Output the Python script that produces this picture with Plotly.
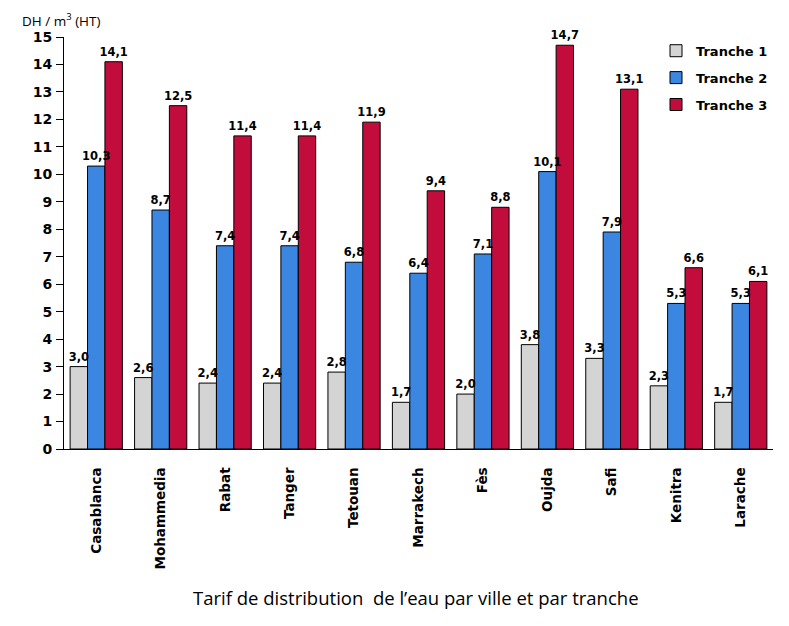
import plotly.graph_objects as go

cities = ["Casablanca", "Mohammedia", "Rabat", "Tanger", "Tetouan", "Marrakech",
          "Fès", "Oujda", "Safi", "Kenitra", "Larache"]
tranche1 = [3.0, 2.6, 2.4, 2.4, 2.8, 1.7, 2.0, 3.8, 3.3, 2.3, 1.7]
tranche2 = [10.3, 8.7, 7.4, 7.4, 6.8, 6.4, 7.1, 10.1, 7.9, 5.3, 5.3]
tranche3 = [14.1, 12.5, 11.4, 11.4, 11.9, 9.4, 8.8, 14.7, 13.1, 6.6, 6.1]
series_names = ["Tranche 1", "Tranche 2", "Tranche 3"]
colors = ["#D4D4D4", "#3A86E0", "#C20D3C"]
y_ticks = list(range(0, 16))

fam = "Verdana, 'DejaVu Sans', sans-serif"
all_series = [tranche1, tranche2, tranche3]

fig = go.Figure()
# bars
for i, (name, vals, col) in enumerate(zip(series_names, all_series, colors)):
    fig.add_trace(go.Bar(
        x=cities, y=vals, name=name, legendgroup=f"g{i}", offsetgroup=str(i),
        marker=dict(color=col, line=dict(color="black", width=1)),
        hoverinfo="x+y+name",
    ))
# value labels drawn on top of every bar
for i, vals in enumerate(all_series):
    fig.add_trace(go.Bar(
        x=cities, y=vals, offsetgroup=str(i), showlegend=False,
        marker=dict(color="rgba(0,0,0,0)", line=dict(width=0)),
        texttemplate="%{y:.1f}", textposition="outside", constraintext="none",
        textfont=dict(family=fam, size=11.5, color="black", weight="bold"),
        cliponaxis=False, hoverinfo="skip",
    ))

fig.update_layout(
    width=789, height=626,
    margin=dict(l=56, r=24, t=29, b=185, autoexpand=False),
    paper_bgcolor="white", plot_bgcolor="white",
    barmode="group", bargap=0.19, bargroupgap=0,
    separators=", ",
    showlegend=True,
    legend=dict(x=0.835, y=1.003, xanchor="left", yanchor="top",
                font=dict(family=fam, size=13, color="black", weight="bold"),
                bgcolor="rgba(0,0,0,0)", tracegroupgap=7, itemwidth=30),
    xaxis=dict(showline=True, linecolor="black", linewidth=1, ticks="", automargin=False,
               tickangle=-90, ticklabelstandoff=12,
               tickfont=dict(family=fam, size=13.5, color="black", weight="bold")),
    yaxis=dict(range=[0, 15], tickvals=y_ticks, showline=True, linecolor="black", linewidth=1,
               ticks="outside", ticklen=7, tickcolor="black", showgrid=False, zeroline=False,
               automargin=False, ticklabelstandoff=1,
               tickfont=dict(family=fam, size=14, color="black", weight="bold")),
    annotations=[
        dict(text="DH / m<sup>3</sup> (HT)", xref="paper", yref="paper", x=-0.062, y=1.07,
             xanchor="left", yanchor="top", showarrow=False,
             font=dict(family="'Open Sans', sans-serif", size=13.5, color="black")),
        dict(text="Tarif de distribution  de l’eau par ville et par tranche", xref="paper", yref="paper",
             x=0.496, y=-0.36, xanchor="center", yanchor="middle", showarrow=False,
             font=dict(family="'Open Sans', sans-serif", size=18.5, color="black")),
    ],
)

fig.write_html("out.html")
